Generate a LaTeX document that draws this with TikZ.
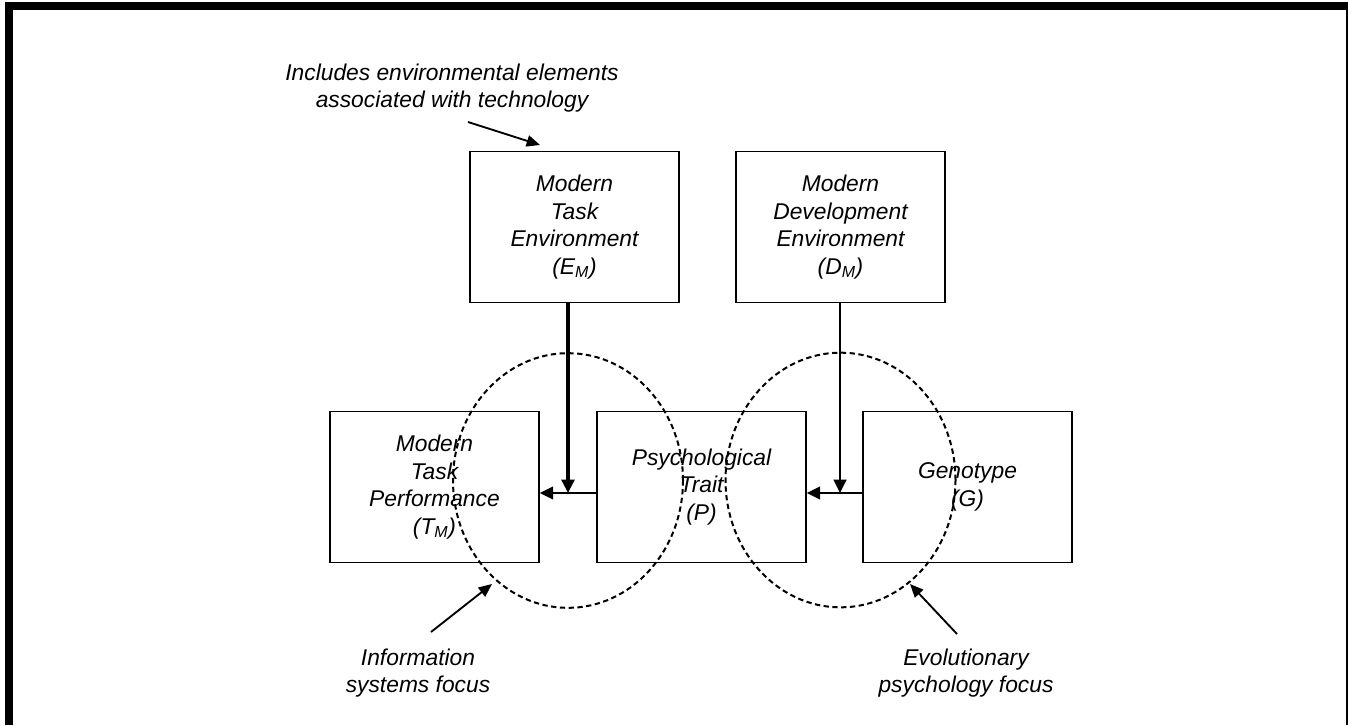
\documentclass[tikz,border=0pt]{standalone}
\usepackage{fontspec}
\setmainfont{Liberation Sans}
\usetikzlibrary{arrows.meta,shapes.geometric}
\tikzset{
  lbl/.style={font=\fontsize{17.1}{20.6}\selectfont\itshape, align=center, inner sep=0pt},
  box/.style={draw, line width=1.2pt, minimum width=156.75pt, minimum height=113pt, inner sep=0pt, lbl},
  focus/.style={draw, ellipse, dash pattern=on 4pt off 2.6pt, line width=1.5pt, minimum width=172.5pt, minimum height=191pt, inner sep=0pt},
  flow/.style={line width=1.7pt, -{Triangle[length=10pt,width=9.5pt]}},
  point/.style={line width=1.4pt, -{Triangle[length=10pt,width=8.5pt]}}
}
\begin{document}
\begin{tikzpicture}[x=0.75pt,y=-0.75pt]
\useasboundingbox (0,0) rectangle (1348,725);
% frame
\fill (5,2) rectangle (1348,10);
\fill (5,2) rectangle (13,725);
\fill (1345.5,2) rectangle (1348,725);
% boxes
\node[box] (EM) at (574.5,227) {Modern\\Task\\Environment\\(E\textsubscript{M})};
\node[box] (DM) at (840.5,227) {Modern\\Development\\Environment\\(D\textsubscript{M})};
\node[box] (TM) at (434.5,487) {Modern\\Task\\Performance\\(T\textsubscript{M})};
\node[box] (P) at (701.5,487) {Psychological\\Trait\\(P)};
\node[box] (G) at (967.5,487) {Genotype\\(G)};
% junctions
\coordinate (j1) at (568,493);
\coordinate (j2) at (840,493);
% arrows
\draw[flow, line width=2.6pt] (EM.south -| j1) -- (j1);
\draw[flow] (DM.south -| j2) -- (j2);
\draw[flow] (P.west |- j1) -- (TM.east |- j1);
\draw[flow] (G.west |- j2) -- (P.east |- j2);
% focus ellipses
\node[focus] (C1) at (568,480.5) {};
\node[focus] (C2) at (840.5,480) {};
% labels
\node[lbl] (top) at (452,88) {Includes environmental elements\\associated with technology};
\coordinate (ta) at (468,122);
\coordinate (tb) at (540,145);
\draw[point] (ta) -- (tb);
\node[lbl] (isf) at (418,673) {Information\\systems focus};
\node[lbl] (epf) at (966,673) {Evolutionary\\psychology focus};
\coordinate (ia) at (431,632);
\coordinate (ib) at (492,584);
\coordinate (ea) at (957,634);
\coordinate (eb) at (910,584);
\draw[point] (ia) -- (ib);
\draw[point] (ea) -- (eb);
\end{tikzpicture}
\end{document}
